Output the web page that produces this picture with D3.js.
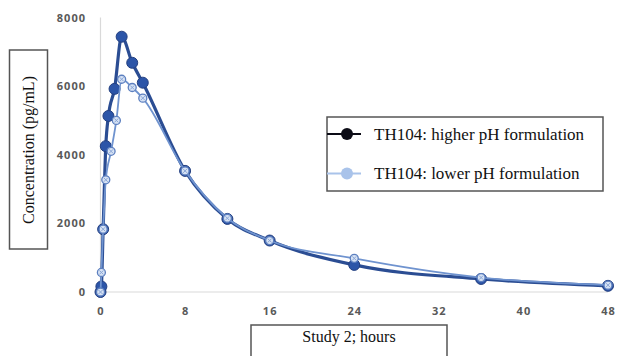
<!DOCTYPE html>
<html>
<head>
<meta charset="utf-8">
<script src="https://cdn.jsdelivr.net/npm/d3@7"></script>
<style>
  body { margin: 0; background: #fff; }
  .tick-label { font-family: "Open Sans", Arial, sans-serif; font-weight: bold; font-size: 11px; fill: #595959; letter-spacing: 1px; }
  .serif { font-family: "Liberation Serif", "Times New Roman", serif; fill: #111; }
</style>
</head>
<body>
<svg id="chart" width="618" height="356"></svg>
<script>
// data
var hoursHigh = [0, 0.083, 0.25, 0.5, 0.75, 1.33, 2, 3, 4, 8, 12, 16, 24, 36, 48];
var concHigh  = [0, 160, 1830, 4250, 5130, 5920, 7440, 6680, 6100, 3530, 2130, 1500, 790, 380, 180];
var hoursLow  = [0, 0.083, 0.25, 0.5, 1, 1.5, 2, 3, 4, 8, 12, 16, 24, 36, 48];
var concLow   = [0, 570, 1830, 3270, 4100, 5000, 6200, 5960, 5650, 3530, 2150, 1500, 980, 420, 200];
var xTicks = [0, 8, 16, 24, 32, 40, 48];
var yTicks = [0, 2000, 4000, 6000, 8000];
var seriesNames = ["TH104: higher pH formulation", "TH104: lower pH formulation"];

var svg = d3.select("#chart");

var x = d3.scaleLinear().domain([0, 48]).range([100.5, 608]);
var y = d3.scaleLinear().domain([0, 8000]).range([292, 17.5]);

// axis lines
svg.append("line")
  .attr("x1", x(0)).attr("x2", x(48))
  .attr("y1", y(0)).attr("y2", y(0))
  .attr("stroke", "#d9d9d9").attr("stroke-width", 1.2);
svg.append("line")
  .attr("x1", x(0)).attr("x2", x(0))
  .attr("y1", y(0)).attr("y2", y(8000))
  .attr("stroke", "#d9d9d9").attr("stroke-width", 1.2);

// tick labels
svg.selectAll(".ylab").data(yTicks).enter().append("text")
  .attr("class", "tick-label")
  .attr("x", 86)
  .attr("y", function(d) { return y(d) + 4; })
  .attr("text-anchor", "end")
  .text(function(d) { return d; });

svg.selectAll(".xlab").data(xTicks).enter().append("text")
  .attr("class", "tick-label")
  .attr("x", function(d) { return x(d) + 0.5; })
  .attr("y", 315)
  .attr("text-anchor", "middle")
  .text(function(d) { return d; });

var line = d3.line()
  .x(function(d) { return x(d[0]); })
  .y(function(d) { return y(d[1]); })
  .curve(d3.curveMonotoneX);

var high = d3.zip(hoursHigh, concHigh);
var low = d3.zip(hoursLow, concLow);

// higher pH series
svg.append("path")
  .datum(high)
  .attr("d", line)
  .attr("fill", "none")
  .attr("stroke", "#2b4d93")
  .attr("stroke-width", 3.2);

svg.selectAll(".mHigh").data(high).enter().append("circle")
  .attr("cx", function(d) { return x(d[0]); })
  .attr("cy", function(d) { return y(d[1]); })
  .attr("r", 5.5)
  .attr("fill", "#2c55a8")
  .attr("stroke", "#233f80")
  .attr("stroke-width", 1);

// lower pH series
svg.append("path")
  .datum(low)
  .attr("d", line)
  .attr("fill", "none")
  .attr("stroke", "#6f93cf")
  .attr("stroke-width", 1.8);

var mLow = svg.selectAll(".mLow").data(low).enter().append("g")
  .attr("transform", function(d) { return "translate(" + x(d[0]) + "," + y(d[1]) + ")"; });
mLow.append("circle")
  .attr("r", 4)
  .attr("fill", "#d6e2f4")
  .attr("stroke", "#5c7fbf")
  .attr("stroke-width", 1.3);
mLow.append("path")
  .attr("d", "M-2,-2L2,2M-2,2L2,-2")
  .attr("stroke", "#8aa6d6")
  .attr("stroke-width", 1);

// legend
svg.append("rect")
  .attr("x", 327).attr("y", 117)
  .attr("width", 276).attr("height", 74)
  .attr("fill", "#fff")
  .attr("stroke", "#555").attr("stroke-width", 1.5);

var legendColors = ["#0c0c16", "#a9c3ea"];
var legend = svg.selectAll(".leg").data(seriesNames).enter().append("g")
  .attr("transform", function(d, i) { return "translate(0," + (134 + i * 39.5) + ")"; });
legend.append("line")
  .attr("x1", 327).attr("x2", 361)
  .attr("stroke", function(d, i) { return legendColors[i]; })
  .attr("stroke-width", 2);
legend.append("circle")
  .attr("cx", 347).attr("r", 6)
  .attr("fill", function(d, i) { return legendColors[i]; });
legend.append("text")
  .attr("class", "serif")
  .attr("x", 374).attr("y", 5.5)
  .attr("font-size", "17px")
  .text(function(d) { return d; });

// y axis title box
svg.append("rect")
  .attr("x", 9.5).attr("y", 50)
  .attr("width", 38).attr("height", 199)
  .attr("fill", "#fff")
  .attr("stroke", "#555").attr("stroke-width", 1.5);
svg.append("text")
  .attr("class", "serif")
  .attr("transform", "translate(34,150) rotate(-90)")
  .attr("text-anchor", "middle")
  .attr("font-size", "16px")
  .text("Concentration (pg/mL)");

// x axis title box
svg.append("rect")
  .attr("x", 251).attr("y", 325)
  .attr("width", 196).attr("height", 40)
  .attr("fill", "#fff")
  .attr("stroke", "#555").attr("stroke-width", 1.5);
svg.append("text")
  .attr("class", "serif")
  .attr("x", 349).attr("y", 342)
  .attr("text-anchor", "middle")
  .attr("font-size", "16px")
  .text("Study 2; hours");
</script>
</body>
</html>
